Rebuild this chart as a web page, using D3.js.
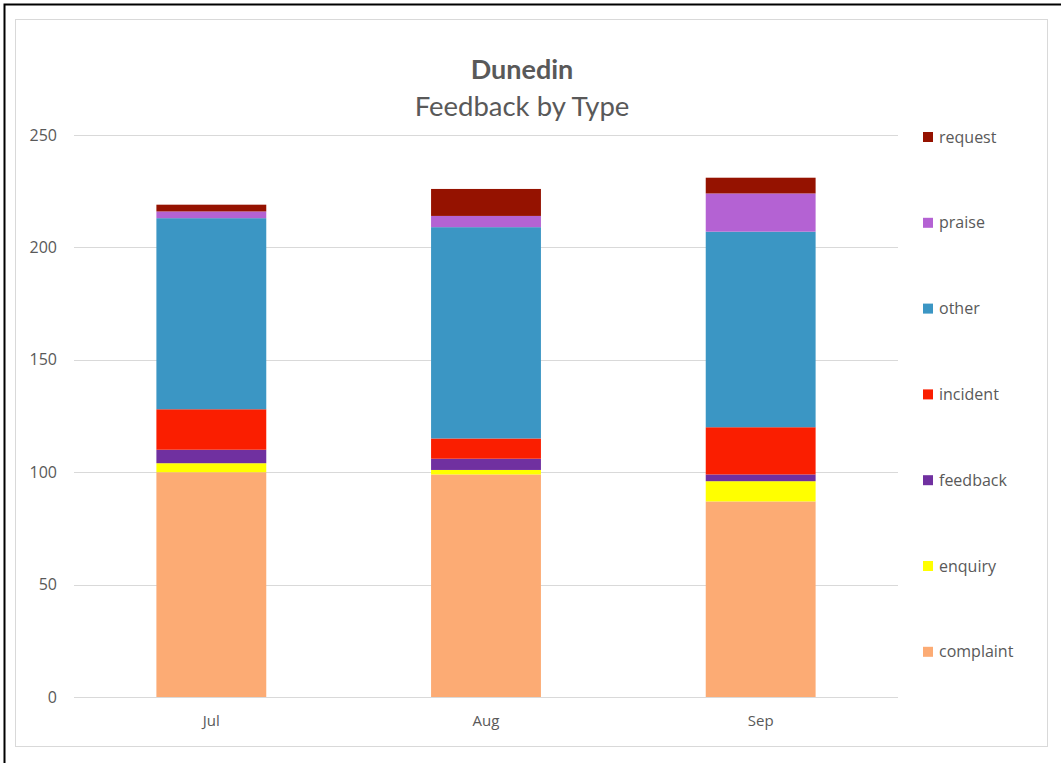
<!DOCTYPE html>
<html>
<head>
<meta charset="utf-8">
<script src="https://cdn.jsdelivr.net/npm/d3@7"></script>
<style>
  html, body { margin: 0; padding: 0; background: #fff; }
  svg { display: block; }
</style>
</head>
<body>
<svg id="chart" width="1061" height="763"></svg>
<script>
// Monthly feedback counts for Dunedin, split by type
const months = ["Jul", "Aug", "Sep"];
const types = ["complaint", "enquiry", "feedback", "incident", "other", "praise", "request"];
const complaint = [100, 99, 87];
const enquiry   = [4, 2, 9];
const feedback  = [6, 5, 3];
const incident  = [18, 9, 21];
const other     = [85, 94, 87];
const praise    = [3, 5, 17];
const request   = [3, 12, 7];
const yTicks = [0, 50, 100, 150, 200, 250];
const typeColors = ["#fcab74", "#ffff00", "#7030a0", "#fa1e00", "#3b96c4", "#b462d3", "#951200"];

const seriesValues = { complaint, enquiry, feedback, incident, other, praise, request };
const rows = months.map((m, i) => {
  const r = { month: m };
  types.forEach(t => { r[t] = seriesValues[t][i]; });
  return r;
});

const svg = d3.select("#chart");
const textColor = "#595959";
const gridColor = "#d9d9d9";

// outer frame and chart area border
svg.append("rect").attr("x", 15.5).attr("y", 19.5).attr("width", 1032).attr("height", 727)
  .attr("fill", "#fff").attr("stroke", gridColor).attr("stroke-width", 1);
svg.append("path").attr("d", "M4.5,763 V4.5 H1061").attr("fill", "none")
  .attr("stroke", "#000").attr("stroke-width", 2);

const x = d3.scaleBand().domain(months).range([74, 898]).paddingInner(0.6).paddingOuter(0.3);
const y = d3.scaleLinear().domain([0, 250]).range([697, 135]);
const color = d3.scaleOrdinal().domain(types).range(typeColors);

// gridlines
svg.append("g").selectAll("line").data(yTicks.filter(d => d > 0)).join("line")
  .attr("x1", 74).attr("x2", 898)
  .attr("y1", d => Math.round(y(d)) + 0.5).attr("y2", d => Math.round(y(d)) + 0.5)
  .attr("stroke", gridColor).attr("stroke-width", 1);

// y axis labels
const yAxis = svg.append("g").attr("transform", "translate(74,0)")
  .call(d3.axisLeft(y).tickValues(yTicks).tickSize(0).tickPadding(17));
yAxis.select(".domain").remove();
yAxis.selectAll("text").attr("fill", textColor).style("font-family", "'Open Sans', sans-serif")
  .style("font-size", "16px");

// stacked bars
const stack = d3.stack().keys(types);
const series = stack(rows);
svg.append("g").selectAll("g").data(series).join("g")
  .attr("fill", d => color(d.key))
  .selectAll("rect").data(d => d).join("rect")
  .attr("x", d => x(d.data.month))
  .attr("width", x.bandwidth())
  .attr("y", d => y(d[1]))
  .attr("height", d => y(d[0]) - y(d[1]));

// x axis
const xAxis = svg.append("g").attr("transform", "translate(0," + (Math.round(y(0)) + 0.5) + ")")
  .call(d3.axisBottom(x).tickSize(0).tickPadding(18).tickSizeOuter(0));
xAxis.select(".domain").attr("stroke", gridColor).attr("d", "M74,0H898");
xAxis.selectAll("text").attr("fill", textColor).style("font-family", "'Open Sans', sans-serif")
  .style("font-size", "15px");

// titles
svg.append("text").attr("x", 522).attr("y", 79).attr("text-anchor", "middle")
  .attr("fill", textColor).style("font-family", "Lato, sans-serif").style("font-weight", "bold")
  .style("font-size", "27px").text("Dunedin");
svg.append("text").attr("x", 522).attr("y", 116).attr("text-anchor", "middle")
  .attr("fill", textColor).style("font-family", "Lato, sans-serif")
  .style("font-size", "27.5px").text("Feedback by Type");

// legend, top item is the top of the stack
const legendTypes = types.slice().reverse();
const legend = svg.append("g").selectAll("g").data(legendTypes).join("g")
  .attr("transform", (d, i) => "translate(923," + (137 + i * 85.8) + ")");
legend.append("rect").attr("x", 0).attr("y", -5).attr("width", 10).attr("height", 10)
  .attr("fill", d => color(d));
legend.append("text").attr("x", 16).attr("y", 0).attr("dy", "0.35em")
  .attr("fill", textColor).style("font-family", "'Open Sans', sans-serif")
  .style("font-size", "16px").text(d => d);
</script>
</body>
</html>
